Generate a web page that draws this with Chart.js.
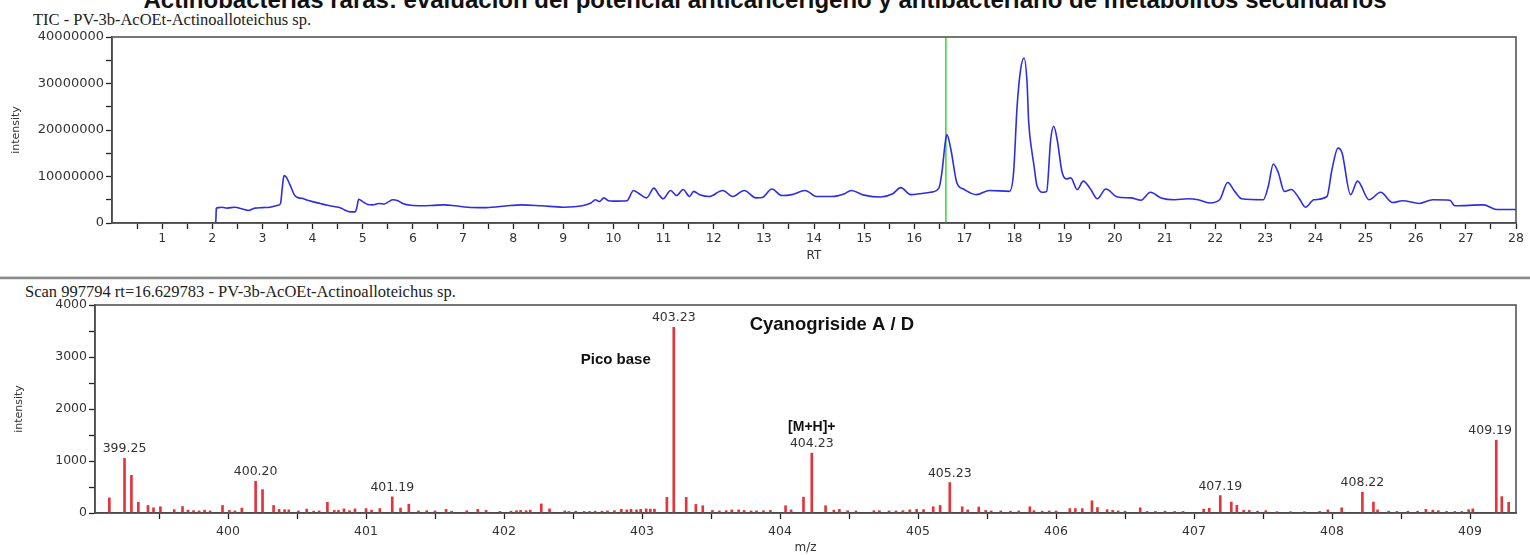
<!DOCTYPE html>
<html>
<head>
<meta charset="utf-8">
<script src="https://cdn.jsdelivr.net/npm/chart.js@4.4.0/dist/chart.umd.min.js"></script>
<style>
  body { margin: 0; width: 1530px; height: 555px; overflow: hidden; background: #fff; position: relative; }
  #heading { position: absolute; left: 0; top: -12px; width: 1530px; text-align: center; white-space: nowrap;
             font: bold 24px/24px "Liberation Sans"; color: #111; }
  .panel-title { position: absolute; white-space: nowrap; font: 16.5px/18px "Liberation Serif"; color: #222; }
  #sep { position: absolute; left: 0; top: 276px; width: 1530px; height: 2px; background: #8a8a8a;
         border-top: 1px solid #d0d0d0; border-bottom: 1px solid #e4e4e4; }
  canvas { position: absolute; left: 0; }
</style>
</head>
<body>
<div id="heading">Actinobacterias raras: evaluación del potencial anticancerígeno y antibacteriano de metabolitos secundarios</div>
<div class="panel-title" style="left:33px; top:11px">TIC - PV-3b-AcOEt-Actinoalloteichus sp.</div>
<canvas id="ticChart" width="1530" height="277" style="top:0"></canvas>
<div id="sep"></div>
<div class="panel-title" style="left:25px; top:283px">Scan 997794 rt=16.629783 - PV-3b-AcOEt-Actinoalloteichus sp.</div>
<canvas id="msChart" width="1530" height="275" style="top:280px"></canvas>
<script>
// total ion chromatogram: retention time (min) and intensity
const rtMinutes = [
  2.03, 2.07, 2.08, 2.12, 2.19, 2.3, 2.45, 2.6, 2.72, 2.85, 3.0, 3.15, 3.31, 3.36, 3.4, 3.43, 3.48, 3.55,
  3.64, 3.72, 3.8, 3.9, 4.0, 4.15, 4.3, 4.45, 4.55, 4.64, 4.75, 4.85, 4.88, 4.92, 5.0, 5.1, 5.2, 5.32,
  5.43, 5.52, 5.6, 5.7, 5.8, 5.96, 6.2, 6.42, 6.62, 6.85, 7.09, 7.42, 7.7, 7.88, 8.16, 8.56, 9.0, 9.38,
  9.55, 9.64, 9.72, 9.81, 9.9, 10.0, 10.27, 10.4, 10.5, 10.66, 10.81, 10.9, 10.99, 11.14, 11.26, 11.39,
  11.52, 11.6, 11.72, 11.91, 12.18, 12.38, 12.61, 12.84, 12.97, 13.16, 13.36, 13.56, 13.82, 14.05, 14.35,
  14.61, 14.74, 15.0, 15.33, 15.57, 15.73, 15.93, 16.32, 16.49, 16.55, 16.62, 16.65, 16.73, 16.85, 16.98,
  17.24, 17.5, 17.9, 17.98, 18.05, 18.12, 18.19, 18.25, 18.28, 18.35, 18.38, 18.45, 18.58, 18.64, 18.72,
  18.78, 18.85, 18.95, 19.05, 19.12, 19.25, 19.37, 19.52, 19.65, 19.82, 20.05, 20.32, 20.52, 20.71, 20.92,
  21.19, 21.46, 21.66, 21.89, 22.09, 22.25, 22.39, 22.53, 22.96, 23.06, 23.16, 23.26, 23.38, 23.52, 23.67,
  23.8, 23.97, 24.23, 24.33, 24.45, 24.53, 24.7, 24.84, 25.07, 25.3, 25.54, 25.74, 26.07, 26.34, 26.68,
  26.78, 27.35, 27.62, 28.0
];
const ticIntensity = [
  0, 300000, 3100000, 3300000, 3400000, 3200000, 3400000, 3000000, 2700000, 3200000, 3300000, 3400000,
  3800000, 4200000, 8000000, 10200000, 9800000, 8200000, 6000000, 5400000, 5300000, 4900000, 4600000,
  4200000, 3800000, 3500000, 3300000, 2800000, 2400000, 2400000, 3200000, 5100000, 4600000, 4000000,
  3900000, 4200000, 4100000, 4600000, 5000000, 4800000, 4200000, 3800000, 3700000, 3800000, 3900000,
  3700000, 3400000, 3300000, 3500000, 3700000, 3900000, 3700000, 3400000, 3700000, 4300000, 5000000,
  4600000, 5400000, 4800000, 4700000, 4800000, 7000000, 6400000, 5400000, 7500000, 6200000, 5200000,
  7000000, 5900000, 7200000, 5700000, 6800000, 6100000, 5700000, 7000000, 5700000, 7000000, 5400000,
  5500000, 7300000, 5900000, 6100000, 7000000, 5700000, 5700000, 6300000, 7000000, 6000000, 5600000,
  6300000, 7600000, 6100000, 6600000, 7500000, 10800000, 17500000, 19000000, 15800000, 8600000, 7300000,
  6100000, 7000000, 6800000, 10800000, 25000000, 33000000, 35500000, 30000000, 22000000, 15000000,
  12900000, 7900000, 6600000, 6800000, 17900000, 20800000, 17900000, 10800000, 9500000, 9700000, 7200000,
  9000000, 7200000, 5200000, 7300000, 5600000, 5400000, 4900000, 6600000, 5400000, 5000000, 5200000,
  5000000, 4300000, 5000000, 8700000, 6800000, 5200000, 5000000, 7900000, 12700000, 10800000, 6800000,
  7200000, 5400000, 3400000, 5000000, 5700000, 11500000, 16100000, 15100000, 6100000, 9000000, 5000000,
  6600000, 4400000, 4800000, 4200000, 5000000, 4900000, 3700000, 3900000, 2900000, 2900000
];
const scanRt = 16.629783;

// mass spectrum of the selected scan
const mzValues = [
  399.14, 399.25, 399.30, 399.35, 399.42, 399.46, 399.51, 399.61, 399.67, 399.71, 399.75, 399.79, 399.83,
  399.87, 399.96, 400.01, 400.05, 400.10, 400.20, 400.25, 400.33, 400.37, 400.41, 400.44, 400.51, 400.57,
  400.62, 400.66, 400.72, 400.77, 400.80, 400.84, 400.88, 400.92, 401.00, 401.04, 401.10, 401.19, 401.25,
  401.31, 401.38, 401.44, 401.50, 401.58, 401.62, 401.73, 401.81, 401.87, 401.97, 402.05, 402.09, 402.12,
  402.16, 402.19, 402.27, 402.33, 402.44, 402.47, 402.52, 402.58, 402.62, 402.66, 402.71, 402.75, 402.80,
  402.85, 402.89, 402.92, 402.96, 402.99, 403.03, 403.06, 403.09, 403.18, 403.23, 403.32, 403.39, 403.44,
  403.51, 403.56, 403.61, 403.65, 403.70, 403.74, 403.79, 403.83, 403.88, 403.93, 404.04, 404.08, 404.17,
  404.23, 404.33, 404.39, 404.43, 404.49, 404.55, 404.68, 404.72, 404.79, 404.84, 404.89, 404.94, 404.99,
  405.04, 405.11, 405.16, 405.23, 405.32, 405.36, 405.44, 405.49, 405.53, 405.60, 405.67, 405.73, 405.81,
  405.84, 405.90, 405.95, 406.00, 406.10, 406.14, 406.19, 406.26, 406.30, 406.37, 406.41, 406.45, 406.50,
  406.61, 406.66, 406.72, 406.79, 406.86, 406.92, 407.07, 407.11, 407.19, 407.27, 407.31, 407.36, 407.40,
  407.46, 407.52, 407.60, 407.70, 407.80, 407.91, 407.97, 408.07, 408.22, 408.30, 408.33, 408.41, 408.47,
  408.55, 408.62, 408.68, 408.73, 408.77, 408.83, 408.89, 408.94, 408.99, 409.02, 409.19, 409.23, 409.28
];
const mzIntensity = [
  290, 1050, 725, 205, 145, 100, 120, 65, 125, 55, 45, 40, 55,
  40, 145, 50, 40, 95, 610, 450, 145, 70, 65, 60, 40, 75,
  35, 40, 205, 50, 50, 80, 45, 80, 85, 55, 85, 310, 95,
  170, 40, 45, 40, 70, 35, 45, 70, 50, 30, 35, 45, 50,
  45, 55, 175, 80, 40, 30, 35, 30, 30, 35, 35, 40, 45,
  70, 60, 70, 60, 70, 80, 75, 75, 300, 3570, 300, 165, 140,
  50, 40, 45, 60, 60, 50, 40, 40, 45, 50, 140, 60, 305,
  1150, 140, 55, 70, 45, 40, 45, 45, 40, 40, 45, 60, 70,
  65, 120, 145, 585, 120, 60, 115, 50, 40, 40, 35, 40, 120,
  45, 35, 40, 40, 85, 85, 85, 235, 105, 65, 50, 40, 35,
  100, 30, 30, 35, 30, 30, 75, 90, 335, 210, 150, 50, 50,
  35, 45, 25, 25, 25, 30, 60, 100, 400, 210, 60, 35, 30,
  35, 35, 70, 55, 45, 30, 30, 30, 65, 80, 1400, 315, 205
];
const labelledPeaks = [399.25, 400.20, 401.19, 403.23, 404.23, 405.23, 407.19, 408.22, 409.19];

// axis tick labels
const rtLabels = [1, 2, 3, 4, 5, 6, 7, 8, 9, 10, 11, 12, 13, 14, 15, 16, 17, 18, 19, 20, 21, 22, 23, 24, 25, 26, 27, 28];
const ticYLabels = [0, 10000000, 20000000, 30000000, 40000000];
const mzLabels = [400, 401, 402, 403, 404, 405, 406, 407, 408, 409];
const msYLabels = [0, 1000, 2000, 3000, 4000];

const tickFont = { family: 'DejaVu Sans', size: 12.5 };
const inkColor = '#333';

// labelled ticks plus a minor tick half way between each pair
function withHalfTicks(labels, lo, hi) {
  const step = labels[1] - labels[0];
  const vals = [];
  labels.forEach(v => {
    vals.push(v);
    vals.push(v - step / 2);
  });
  vals.push(labels[labels.length - 1] + step / 2);
  return vals.filter(v => v >= lo && v <= hi).sort((a, b) => a - b).map(v => ({ value: v }));
}

function axisGrid() {
  return { drawOnChartArea: false, drawTicks: true, tickLength: 6, color: '#222', tickWidth: 1.3 };
}

const panelFrame = {
  id: 'panelFrame',
  afterDraw(chart) {
    const { ctx, chartArea: a } = chart;
    ctx.save();
    ctx.strokeStyle = '#555';
    ctx.lineWidth = 1.6;
    ctx.strokeRect(a.left, a.top, a.right - a.left, a.bottom - a.top);
    ctx.restore();
  }
};

const scanMarker = {
  id: 'scanMarker',
  beforeDatasetsDraw(chart) {
    const { ctx, chartArea: a, scales: { x } } = chart;
    const px = x.getPixelForValue(scanRt);
    ctx.save();
    ctx.strokeStyle = '#3ddc3d';
    ctx.lineWidth = 1.6;
    ctx.beginPath();
    ctx.moveTo(px, a.top);
    ctx.lineTo(px, a.bottom);
    ctx.stroke();
    ctx.restore();
  }
};

const peakNotes = {
  id: 'peakNotes',
  afterDatasetsDraw(chart) {
    const { ctx, chartArea: a, scales: { x, y } } = chart;
    ctx.save();
    ctx.fillStyle = inkColor;
    ctx.textBaseline = 'alphabetic';
    ctx.textAlign = 'center';
    ctx.font = '12.5px "DejaVu Sans"';
    labelledPeaks.forEach(mz => {
      const i = mzValues.indexOf(mz);
      const px = x.getPixelForValue(mz);
      const py = y.getPixelForValue(mzIntensity[i]);
      const text = mz.toFixed(2);
      const half = ctx.measureText(text).width / 2;
      const cx = Math.min(px, a.right - half - 4);
      ctx.fillText(text, cx, py - 6);
      if (mz === 404.23) {
        ctx.font = 'bold 14px "Liberation Sans"';
        ctx.fillStyle = '#111';
        ctx.fillText('[M+H]+', cx, py - 22);
        ctx.font = '12.5px "DejaVu Sans"';
        ctx.fillStyle = inkColor;
      }
      if (mz === 403.23) {
        ctx.font = 'bold 15px "Liberation Sans"';
        ctx.fillStyle = '#111';
        ctx.textAlign = 'right';
        ctx.fillText('Pico base', px - 23, y.getPixelForValue(2860));
        ctx.textAlign = 'left';
        ctx.font = 'bold 18.5px "Liberation Sans"';
        ctx.fillText('Cyanogriside A / D', x.getPixelForValue(403.78), y.getPixelForValue(3520));
        ctx.textAlign = 'center';
        ctx.font = '12.5px "DejaVu Sans"';
        ctx.fillStyle = inkColor;
      }
    });
    ctx.restore();
  }
};

new Chart(document.getElementById('ticChart'), {
  type: 'line',
  data: {
    datasets: [{
      data: rtMinutes.map((t, i) => ({ x: t, y: ticIntensity[i] })),
      borderColor: '#2e2ee0',
      borderWidth: 1.6,
      pointRadius: 0,
      tension: 0.25,
      cubicInterpolationMode: 'monotone',
      fill: false
    }]
  },
  options: {
    responsive: false,
    animation: false,
    events: [],
    layout: { padding: { top: 37, right: 14, left: 0, bottom: 0 } },
    plugins: { legend: { display: false }, tooltip: { enabled: false } },
    scales: {
      x: {
        type: 'linear', min: 0, max: 28,
        afterBuildTicks: s => { s.ticks = withHalfTicks(rtLabels, 0.5, 28); },
        afterFit: s => { s.height = 54; },
        border: { color: '#222', width: 1.5 },
        grid: axisGrid(),
        ticks: { font: tickFont, color: inkColor, padding: 2, maxRotation: 0, autoSkip: false,
                 callback: v => rtLabels.includes(v) ? String(v) : '' },
        title: { display: true, text: 'RT', font: { family: 'DejaVu Sans', size: 12 }, color: inkColor,
                 padding: { top: 0, bottom: 14 } }
      },
      y: {
        type: 'linear', min: 0, max: 40000000,
        afterBuildTicks: s => { s.ticks = withHalfTicks(ticYLabels, 0, 40000000); },
        afterFit: s => { s.width = 112; },
        border: { color: '#222', width: 1.5 },
        grid: axisGrid(),
        ticks: { font: { family: 'DejaVu Sans', size: 13 }, color: inkColor, padding: 2, autoSkip: false,
                 callback: v => ticYLabels.includes(v) ? String(v) : '' },
        title: { display: true, text: 'intensity', font: { family: 'DejaVu Sans', size: 11 }, color: inkColor,
                 padding: { top: 10, bottom: 0 } }
      }
    }
  },
  plugins: [scanMarker, panelFrame]
});

new Chart(document.getElementById('msChart'), {
  type: 'bar',
  data: {
    datasets: [{
      data: mzValues.map((m, i) => ({ x: m, y: mzIntensity[i] })),
      backgroundColor: '#e5333b',
      barThickness: 2
    }]
  },
  options: {
    responsive: false,
    animation: false,
    events: [],
    layout: { padding: { top: 25, right: 14, left: 0, bottom: 0 } },
    plugins: { legend: { display: false }, tooltip: { enabled: false } },
    scales: {
      x: {
        type: 'linear', min: 399.036, max: 409.333,
        offset: false,
        afterBuildTicks: s => { s.ticks = withHalfTicks(mzLabels, 399.036, 409.333); },
        afterFit: s => { s.height = 42; },
        border: { color: '#222', width: 1.5 },
        grid: { ...axisGrid(), offset: false },
        ticks: { font: tickFont, color: inkColor, padding: 5, maxRotation: 0, autoSkip: false,
                 callback: v => mzLabels.includes(v) ? String(v) : '' },
        title: { display: true, text: 'm/z', font: { family: 'DejaVu Sans', size: 12 }, color: inkColor,
                 padding: { top: 0, bottom: 0 } }
      },
      y: {
        type: 'linear', min: 0, max: 4000,
        afterBuildTicks: s => { s.ticks = withHalfTicks(msYLabels, 0, 4000); },
        afterFit: s => { s.width = 95; },
        border: { color: '#222', width: 1.5 },
        grid: axisGrid(),
        ticks: { font: tickFont, color: inkColor, padding: 2, autoSkip: false,
                 callback: v => msYLabels.includes(v) ? String(v) : '' },
        title: { display: true, text: 'intensity', font: { family: 'DejaVu Sans', size: 11 }, color: inkColor,
                 padding: { top: 13, bottom: 0 } }
      }
    }
  },
  plugins: [peakNotes, panelFrame]
});
</script>
</body>
</html>
